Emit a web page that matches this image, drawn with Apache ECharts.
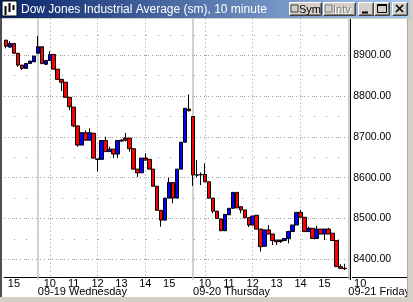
<!DOCTYPE html>
<html><head><meta charset="utf-8">
<script src="https://cdn.jsdelivr.net/npm/echarts@6/dist/echarts.min.js"></script>
<style>html,body{margin:0;padding:0;background:#fff}#c{width:413px;height:302px}</style>
</head><body><div id="c"></div>
<script>
// ---- data ----
const dates = ['09-18', '09-19', '09-20', '09-21'];
const dayNames = ['Tuesday', 'Wednesday', 'Thursday', 'Friday'];
const sessionTimes = ['09:30','09:40','09:50','10:00','10:10','10:20','10:30','10:40','10:50',
  '11:00','11:10','11:20','11:30','11:40','11:50','12:00','12:10','12:20','12:30','12:40','12:50',
  '13:00','13:10','13:20','13:30','13:40','13:50','14:00','14:10','14:20','14:30','14:40','14:50',
  '15:00','15:10','15:20','15:30','15:40','15:50'];
const gridHours = ['10:00', '12:00', '14:00'];
const yTicks = [8400, 8500, 8600, 8700, 8800, 8900];

// 10-minute bars: Tue (8), Wed (39), Thu (39)
const open = [8937,8920,8929,8905,8876,8868,8880,8884,
  8905,8921,8878,8887,8902,8866,8841,8834,8797,8773,8727,8680,8710,8692,8709,8646,8645,8691,8664,8670,8658,8690,8697,8697,8671,8621,8612,8648,8645,8621,8579,8520,8496,8550,8588,8550,8621,8687,8768,
  8750,8607,8607,8608,8590,8550,8518,8499,8470,8509,8525,8564,8529,8521,8502,8484,8508,8474,8432,8472,8462,8447,8444,8446,8451,8468,8484,8515,8503,8468,8476,8451,8474,8462,8474,8464,8446,8382,8378];
const close = [8922,8929,8905,8876,8868,8880,8886,8898,
  8921,8880,8887,8902,8866,8841,8834,8797,8774,8727,8680,8710,8692,8710,8648,8645,8691,8664,8670,8658,8691,8692,8692,8671,8621,8612,8648,8643,8621,8579,8520,8496,8550,8588,8550,8621,8687,8770,8764,
  8607,8606,8608,8590,8550,8518,8500,8470,8510,8525,8564,8526,8521,8502,8484,8506,8474,8431,8472,8462,8446,8443,8447,8451,8468,8484,8515,8503,8468,8476,8451,8474,8462,8474,8462,8446,8382,8378,8377];
const high = [8938,8935,8929,8905,8876,8880,8886,8898,
  8947,8921,8887,8910,8902,8866,8841,8834,8797,8773,8727,8712,8716,8721,8709,8646,8691,8700,8676,8670,8691,8694,8710,8697,8671,8621,8648,8660,8645,8621,8579,8520,8550,8600,8588,8621,8687,8770,8804,
  8750,8643,8613,8635,8590,8550,8518,8499,8510,8525,8564,8564,8529,8521,8502,8506,8508,8474,8472,8484,8462,8447,8448,8452,8470,8484,8515,8521,8503,8480,8476,8482,8474,8474,8477,8464,8446,8388,8389];
const low = [8917,8920,8905,8872,8864,8868,8880,8884,
  8905,8878,8876,8887,8866,8841,8812,8797,8766,8724,8676,8680,8692,8692,8648,8615,8645,8664,8664,8648,8648,8688,8689,8664,8621,8602,8612,8643,8621,8579,8520,8480,8496,8550,8537,8550,8621,8687,8763,
  8580,8601,8582,8589,8550,8513,8500,8470,8470,8509,8525,8526,8513,8502,8479,8484,8474,8419,8432,8462,8435,8435,8440,8446,8439,8468,8484,8503,8468,8468,8451,8451,8462,8447,8462,8446,8382,8377,8374];

// categories: Tue 14:40..15:50, full Wed, full Thu, first Fri slot
const categories = [];
sessionTimes.slice(31).forEach(t => categories.push(dates[0] + ' ' + t));
sessionTimes.forEach(t => categories.push(dates[1] + ' ' + t));
sessionTimes.forEach(t => categories.push(dates[2] + ' ' + t));
categories.push(dates[3] + ' ' + sessionTimes[0]);

const candleData = open.map((o, i) => [o, close[i], low[i], high[i]]);

const FONT = 'Liberation Sans';
const dayStarts = categories.filter(c => c.endsWith(sessionTimes[0]) && c.slice(0,5) !== dates[0]);
const hourLines = categories.filter(c => gridHours.includes(c.slice(6)));

const markData = []
  .concat(yTicks.map(v => ({ yAxis: v, lineStyle: { color: '#9a9a9a', type: [1, 3], width: 1 } })))
  .concat(hourLines.map(c => ({ xAxis: c, lineStyle: { color: '#9a9a9a', type: [1, 3], width: 1 } })))
  .concat(dayStarts.map(c => ({ xAxis: c, lineStyle: { color: '#c0c0c0', type: 'solid', width: 1.5 } })));

function bevelButton(x, y, w, h) {
  return [
    { type: 'rect', z: 101, shape: { x: x, y: y, width: w, height: h }, style: { fill: '#d4d0c8' } },
    { type: 'polyline', z: 102, shape: { points: [[x + 0.5, y + h - 0.5], [x + 0.5, y + 0.5], [x + w - 0.5, y + 0.5]] }, style: { stroke: '#ffffff', lineWidth: 1, fill: null } },
    { type: 'polyline', z: 102, shape: { points: [[x + 0.5, y + h - 0.5], [x + w - 0.5, y + h - 0.5], [x + w - 0.5, y + 0.5]] }, style: { stroke: '#404040', lineWidth: 1, fill: null } },
    { type: 'polyline', z: 102, shape: { points: [[x + 1.5, y + h - 1.5], [x + w - 1.5, y + h - 1.5], [x + w - 1.5, y + 1.5]] }, style: { stroke: '#808080', lineWidth: 1, fill: null } }
  ];
}

const chrome = [
  // title bar
  { type: 'rect', z: 100, shape: { x: 0, y: 0, width: 413, height: 19 }, style: { fill: '#d4d0c8' } },
  { type: 'rect', z: 100, shape: { x: 0, y: 0, width: 410, height: 18 },
    style: { fill: { type: 'linear', x: 0, y: 0, x2: 1, y2: 0, colorStops: [{ offset: 0, color: '#0a246a' }, { offset: 1, color: '#a6caf0' }] } } },
  { type: 'rect', z: 101, shape: { x: 2, y: 1, width: 15, height: 15 }, style: { fill: '#ffffff', stroke: '#000', lineWidth: 1 } },
  { type: 'line', z: 102, shape: { x1: 5.5, y1: 6, x2: 5.5, y2: 15 }, style: { stroke: '#000', lineWidth: 2 } },
  { type: 'line', z: 102, shape: { x1: 9.5, y1: 3, x2: 9.5, y2: 12 }, style: { stroke: '#000', lineWidth: 2 } },
  { type: 'line', z: 102, shape: { x1: 13.5, y1: 5, x2: 13.5, y2: 10 }, style: { stroke: '#000', lineWidth: 2 } },
  { type: 'text', z: 101, style: { x: 21, y: 9.5, text: 'Dow Jones Industrial Average (sm), 10 minute', fill: '#ffffff', font: '12px "' + FONT + '"', verticalAlign: 'middle' } }
].concat(bevelButton(289, 2, 33, 14))
 .concat(bevelButton(323, 2, 33, 14))
 .concat(bevelButton(358, 2, 16, 14))
 .concat(bevelButton(374, 2, 16, 14))
 .concat(bevelButton(392, 2, 16, 14))
 .concat([
  { type: 'rect', z: 103, shape: { x: 291, y: 5, width: 7, height: 7 }, style: { fill: '#d4d0c8', stroke: '#404040', lineWidth: 1 } },
  { type: 'text', z: 103, style: { x: 299, y: 9.5, text: 'Sym', fill: '#000', font: '11px "' + FONT + '"', verticalAlign: 'middle' } },
  { type: 'rect', z: 103, shape: { x: 325, y: 5, width: 7, height: 7 }, style: { fill: '#d4d0c8', stroke: '#808080', lineWidth: 1 } },
  { type: 'text', z: 103, style: { x: 334, y: 10.5, text: 'Intv', fill: '#ffffff', font: '11px "' + FONT + '"', verticalAlign: 'middle' } },
  { type: 'text', z: 104, style: { x: 333, y: 9.5, text: 'Intv', fill: '#808080', font: '11px "' + FONT + '"', verticalAlign: 'middle' } },
  { type: 'line', z: 103, shape: { x1: 362, y1: 12.5, x2: 368, y2: 12.5 }, style: { stroke: '#000', lineWidth: 2 } },
  { type: 'rect', z: 103, shape: { x: 377.5, y: 4.5, width: 9, height: 8 }, style: { fill: null, stroke: '#000', lineWidth: 1 } },
  { type: 'line', z: 103, shape: { x1: 377.5, y1: 5.5, x2: 386.5, y2: 5.5 }, style: { stroke: '#000', lineWidth: 1 } },
  { type: 'line', z: 103, shape: { x1: 396, y1: 5, x2: 403, y2: 12 }, style: { stroke: '#000', lineWidth: 1.6 } },
  { type: 'line', z: 103, shape: { x1: 403, y1: 5, x2: 396, y2: 12 }, style: { stroke: '#000', lineWidth: 1.6 } },
  // frame
  { type: 'rect', z: 100, shape: { x: 0, y: 18, width: 2, height: 284 }, style: { fill: '#505050' } },
  { type: 'rect', z: 100, shape: { x: 407, y: 18, width: 6, height: 284 }, style: { fill: '#d4d0c8' } },
  { type: 'line', z: 100, shape: { x1: 407.5, y1: 19, x2: 407.5, y2: 297 }, style: { stroke: '#a8a8a8', lineWidth: 1 } },
  { type: 'rect', z: 100, shape: { x: 0, y: 297, width: 413, height: 5 }, style: { fill: '#d4d0c8' } },
  // x axis line extension under the price scale
  { type: 'line', z: 99, shape: { x1: 352, y1: 277.5, x2: 407, y2: 277.5 }, style: { stroke: '#000', lineWidth: 1 } }
]);

const chart = echarts.init(document.getElementById('c'), null, { renderer: 'canvas' });
chart.setOption({
  animation: false,
  backgroundColor: '#ffffff',
  textStyle: { fontFamily: FONT },
  grid: { left: 4, right: 61, top: 14.5, bottom: 22.3, containLabel: false },
  xAxis: [{
    type: 'category', data: categories, boundaryGap: true, position: 'bottom', offset: -2.4,
    axisLine: { show: true, lineStyle: { color: '#000', width: 1 } },
    axisTick: { show: false }, splitLine: { show: false },
    axisLabel: {
      interval: (i, v) => v.endsWith(':00'),
      formatter: v => String(parseInt(v.slice(6, 8), 10)),
      margin: 1, fontSize: 11, color: '#000', fontFamily: FONT
    }
  }, {
    type: 'category', data: categories, boundaryGap: true, position: 'bottom', offset: -2.4,
    axisLine: { show: false }, axisTick: { show: false }, splitLine: { show: false },
    axisLabel: {
      interval: (i, v) => v.endsWith(sessionTimes[0]) && v.slice(0, 5) !== dates[0],
      formatter: v => v.slice(0, 5) + ' ' + dayNames[dates.indexOf(v.slice(0, 5))],
      align: 'left', margin: 9.5, fontSize: 11, color: '#000', fontFamily: FONT
    }
  }],
  yAxis: {
    type: 'value', position: 'right', min: 8350, max: 9000, interval: 50,
    axisLine: { show: true, lineStyle: { color: '#000', width: 1 } },
    axisTick: { show: false },
    axisLabel: { margin: 3, color: '#000', fontSize: 10.5, fontFamily: FONT,
      formatter: v => yTicks.includes(v) ? v.toFixed(2) : '' },
    splitLine: { show: true, showMinLine: false, showMaxLine: false,
      lineStyle: { color: '#9a9a9a', type: [1, 11], dashOffset: 2, width: 1 } }
  },
  series: [{
    type: 'candlestick', xAxisIndex: 0, data: candleData, barWidth: 4, z: 2,
    itemStyle: { color: '#0000ff', color0: '#ff0000', borderColor: '#000', borderColor0: '#000', borderColorDoji: '#000', borderWidth: 1 },
    markLine: { silent: true, z: 1, symbol: ['none', 'none'], animation: false, label: { show: false },
      emphasis: { disabled: true }, data: markData }
  }],
  graphic: { elements: chrome }
});

// Friday 10:00 label lies past the last plotted slot: place it 3 slots right of the Friday open
const fri = chart.convertToPixel({ xAxisIndex: 0 }, categories[categories.length - 1]);
const prev = chart.convertToPixel({ xAxisIndex: 0 }, categories[categories.length - 2]);
chart.setOption({ graphic: { elements: [{ id: 'fri10', type: 'text', z: 99,
  style: { x: fri + 3 * (fri - prev), y: 278.5, text: '10', fill: '#000', font: '11px "' + FONT + '"', align: 'center', verticalAlign: 'top' } }] } });
</script></body></html>
